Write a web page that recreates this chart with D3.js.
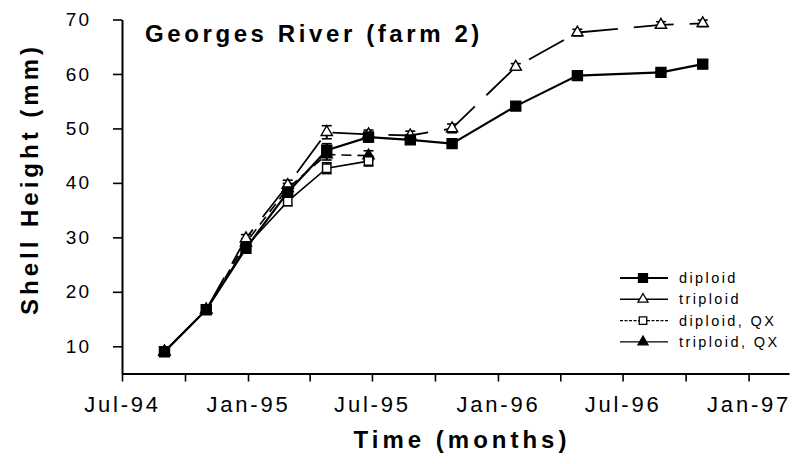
<!DOCTYPE html>
<html>
<head>
<meta charset="utf-8">
<script src="https://cdn.jsdelivr.net/npm/d3@7"></script>
<style>
  html, body { margin: 0; padding: 0; background: #fff; }
  svg { display: block; }
  text { font-family: "Liberation Sans", Arial, Helvetica, sans-serif; fill: #000; }
</style>
</head>
<body>
<svg id="chart" width="798" height="464"></svg>
<script>
// Sampling dates (shell height measured roughly every two months)
const sampleDates = ["1994-09-01", "1994-11-01", "1994-12-29", "1995-02-28", "1995-04-26", "1995-06-26",
                     "1995-08-26", "1995-10-26", "1996-01-27", "1996-04-26", "1996-08-26", "1996-10-26"];

// Mean shell height (mm) and half error-bar (mm) for each group
const diploid       = [9.0, 16.7, 28.0, 38.3, 46.0, 48.4, 47.9, 47.2, 54.1, 59.7, 60.3, 61.8];
const diploidErr    = [0.2, 0.3, 0.5, 0.9, 1.2, 0.9, 0.7, 0.6, 0.5, 0.5, 0.5, 0.5];
const triploid      = [9.0, 16.7, 29.8, 39.6, 49.3, 48.9, 48.7, 50.0, 61.3, 67.6, 69.0, 69.3];
const triploidErr   = [0.2, 0.3, 0.7, 0.9, 1.2, 0.8, 0.8, 0.8, 0.6, 0.6, 0.6, 0.6];
const diploidQX     = [9.0, 16.7, 28.3, 36.6, 42.7, 44.0];
const diploidQXErr  = [0.2, 0.3, 0.6, 0.8, 1.0, 0.9];
const triploidQX    = [9.0, 16.7, 29.0, 39.0, 45.2, 45.0];
const triploidQXErr = [0.2, 0.3, 0.7, 0.9, 1.0, 0.9];

const seriesNames = ["diploid", "triploid", "diploid, QX", "triploid, QX"];
const yTickValues = [10, 20, 30, 40, 50, 60, 70];
const xLabelMonths = [0, 6]; // January and July are labelled

const parseDate = d3.timeParse("%Y-%m-%d");
const dates = sampleDates.map(parseDate);

const svg = d3.select("#chart");

const x = d3.scaleTime()
  .domain([new Date(1994, 6, 1), new Date(1997, 2, 1)])
  .range([122, 789]);
const y = d3.scaleLinear()
  .domain([5, 70])
  .range([373.5, 19.5]);

// Axes
const xTicks = d3.timeMonth.every(3).range(new Date(1994, 6, 1), new Date(1997, 0, 2));
const fmt = d3.timeFormat("%b-%y");
const xAxis = d3.axisBottom(x)
  .tickValues(xTicks)
  .tickSize(8)
  .tickSizeOuter(0)
  .tickPadding(15)
  .tickFormat(d => xLabelMonths.includes(d.getMonth()) ? fmt(d) : "");
const gx = svg.append("g").attr("transform", `translate(0,${y(5)})`).call(xAxis);
gx.select(".domain").attr("stroke", "#000").attr("stroke-width", 2);
gx.selectAll(".tick line").attr("stroke", "#000").attr("stroke-width", 1.6);
gx.selectAll(".tick text")
  .attr("font-size", 22).attr("letter-spacing", 2.8)
  .attr("dy", "0.71em");

const yAxis = d3.axisLeft(y)
  .tickValues(yTickValues)
  .tickSize(9)
  .tickSizeOuter(0)
  .tickPadding(22);
const gy = svg.append("g").attr("transform", `translate(${x.range()[0]},0)`).call(yAxis);
gy.select(".domain").attr("stroke", "#000").attr("stroke-width", 2);
gy.selectAll(".tick line").attr("stroke", "#000").attr("stroke-width", 1.6);
gy.selectAll(".tick text").attr("font-size", 19).attr("letter-spacing", 2);

// Axis titles and panel title
svg.append("text")
  .attr("transform", "translate(38,179) rotate(-90)")
  .attr("text-anchor", "middle")
  .attr("font-size", 24).attr("font-weight", "bold").attr("letter-spacing", 4)
  .text("Shell Height (mm)");
svg.append("text")
  .attr("x", 462).attr("y", 448)
  .attr("text-anchor", "middle")
  .attr("font-size", 24).attr("font-weight", "bold").attr("letter-spacing", 4)
  .text("Time (months)");
svg.append("text")
  .attr("x", 145).attr("y", 42)
  .attr("font-size", 24).attr("font-weight", "bold").attr("letter-spacing", 3.6)
  .text("Georges River (farm 2)");

// Series definitions
const series = [
  { name: seriesNames[3], values: triploidQX, err: triploidQXErr, symbol: d3.symbolTriangle, size: 55, fill: "#000", dash: "10,6", width: 1.6 },
  { name: seriesNames[2], values: diploidQX,  err: diploidQXErr,  symbol: d3.symbolSquare,   size: 70, fill: "#fff", dash: null,  width: 1.6 },
  { name: seriesNames[1], values: triploid,   err: triploidErr,   symbol: d3.symbolTriangle, size: 55, fill: "#fff", dash: "40,16", width: 1.8 },
  { name: seriesNames[0], values: diploid,    err: diploidErr,    symbol: d3.symbolSquare,   size: 100, fill: "#000", dash: null, width: 2.2 }
];

const line = d3.line()
  .x(d => x(d.date))
  .y(d => y(d.v));

series.forEach(s => {
  const pts = s.values.map((v, i) => ({ date: dates[i], v, e: s.err[i] }));
  const g = svg.append("g");
  g.append("path")
    .datum(pts)
    .attr("d", line)
    .attr("fill", "none")
    .attr("stroke", "#000")
    .attr("stroke-width", s.width)
    .attr("stroke-dasharray", s.dash);
  // error bars
  const eb = g.selectAll(".eb").data(pts).join("g").attr("class", "eb");
  eb.append("line")
    .attr("x1", d => x(d.date)).attr("x2", d => x(d.date))
    .attr("y1", d => y(d.v - d.e)).attr("y2", d => y(d.v + d.e))
    .attr("stroke", "#000").attr("stroke-width", 2);
  eb.append("line")
    .attr("x1", d => x(d.date) - 5).attr("x2", d => x(d.date) + 5)
    .attr("y1", d => y(d.v + d.e)).attr("y2", d => y(d.v + d.e))
    .attr("stroke", "#000").attr("stroke-width", 1.6);
  eb.append("line")
    .attr("x1", d => x(d.date) - 5).attr("x2", d => x(d.date) + 5)
    .attr("y1", d => y(d.v - d.e)).attr("y2", d => y(d.v - d.e))
    .attr("stroke", "#000").attr("stroke-width", 1.6);
  // markers
  g.selectAll(".mk").data(pts).join("path")
    .attr("class", "mk")
    .attr("transform", d => `translate(${x(d.date)},${y(d.v)})`)
    .attr("d", d3.symbol().type(s.symbol).size(s.size))
    .attr("fill", s.fill)
    .attr("stroke", "#000")
    .attr("stroke-width", 1.4);
});

// Legend
const legendOrder = [series[3], series[2], series[1], series[0]];
const lg = svg.append("g").attr("transform", "translate(620,278)");
legendOrder.forEach((s, i) => {
  const row = lg.append("g").attr("transform", `translate(0,${i * 21.3})`);
  row.append("line")
    .attr("x1", 0).attr("x2", 48).attr("y1", 0).attr("y2", 0)
    .attr("stroke", "#000")
    .attr("stroke-width", s.name === "diploid" ? 2.2 : 1.4)
    .attr("stroke-dasharray", s.name === "diploid, QX" ? "3,1.5" : null);
  row.append("path")
    .attr("transform", "translate(23,0)")
    .attr("d", d3.symbol().type(s.symbol).size(s.size * 0.8))
    .attr("fill", s.fill)
    .attr("stroke", "#000")
    .attr("stroke-width", 1.3);
  row.append("text")
    .attr("x", 59).attr("y", 5)
    .attr("font-size", 14.5).attr("letter-spacing", 2.4)
    .text(s.name);
});
</script>
</body>
</html>
